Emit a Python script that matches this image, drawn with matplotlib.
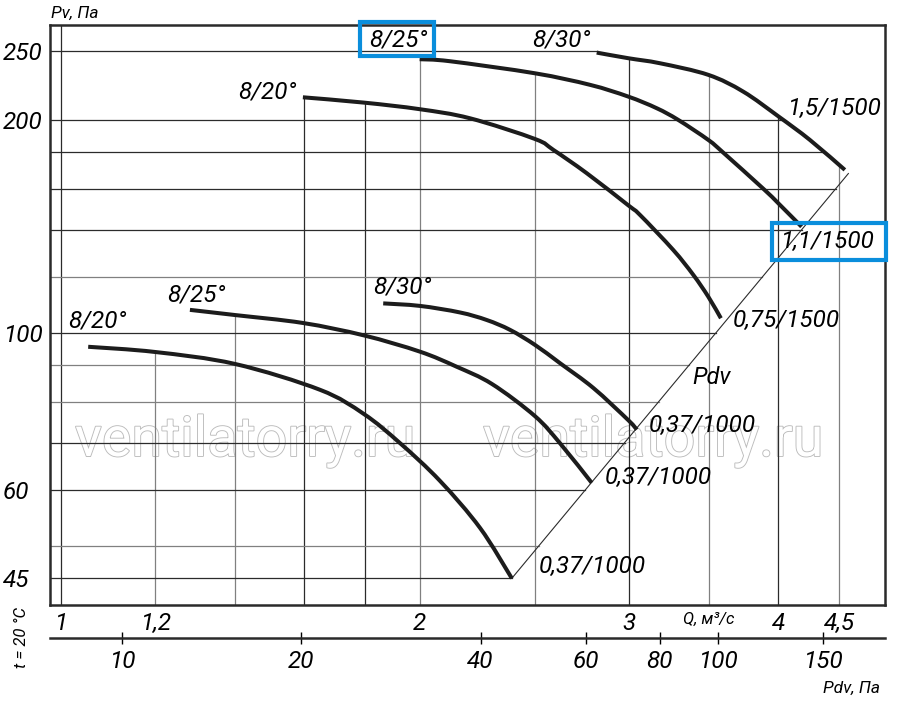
import numpy as np
import matplotlib
matplotlib.use("Agg")
import matplotlib.pyplot as plt
from matplotlib.patches import Rectangle, PathPatch
from matplotlib.path import Path
from matplotlib import patheffects
from matplotlib.ticker import NullLocator

plt.rcParams['font.family'] = ['Roboto', 'DejaVu Sans']
plt.rcParams['font.style'] = 'italic'

# fan curves: Q, m3/s  ->  Pv, Pa
# 1500 rpm
q_20_1500 = [1.596, 1.796, 2.001, 2.204, 2.499, 2.590, 2.762, 2.993, 3.062, 3.265, 3.394, 3.494, 3.58]
p_20_1500 = [215.3, 211.6, 207.1, 201.1, 188.0, 181.4, 168.2, 151.5, 146.8, 131.0, 120.8, 112.5, 104.9]
q_25_1500 = [2.0, 2.121, 2.499, 2.780, 2.993, 3.162, 3.297, 3.494, 3.594, 3.884, 4.0, 4.184]
p_25_1500 = [243.7, 242.1, 232.8, 224.2, 215.8, 207.8, 200.0, 187.4, 180.0, 160.0, 152.5, 141.3]
q_30_1500 = [2.816, 2.993, 3.183, 3.494, 3.738, 4.003, 4.252, 4.549]
p_30_1500 = [249.0, 244.5, 240.5, 231.6, 219.3, 202.2, 187.4, 170.0]
# 1000 rpm
q_20_1000 = [1.054, 1.199, 1.400, 1.650, 1.796, 1.925, 2.080, 2.248, 2.39]
p_20_1000 = [95.6, 94.0, 90.4, 83.1, 76.8, 69.9, 61.8, 53.0, 45.0]
q_25_1000 = [1.283, 1.400, 1.596, 1.796, 2.001, 2.148, 2.300, 2.499, 2.624, 2.789]
p_25_1000 = [107.8, 106.0, 103.3, 99.2, 94.1, 89.6, 84.7, 76.3, 69.8, 61.4]
q_30_1000 = [1.864, 2.001, 2.162, 2.277, 2.382, 2.499, 2.624, 2.798, 2.993, 3.043]
p_30_1000 = [110.1, 109.2, 106.9, 104.3, 101.0, 96.2, 90.6, 83.6, 75.3, 73.0]

# dynamic pressure line
pdv_line_q = [2.39, 4.58]
pdv_line_p = [45.0, 168.0]
PDV_COEF = 7.9  # Pdv = k * Q^2

q_grid = [1, 1.2, 1.4, 1.6, 1.8, 2, 2.5, 3, 3.5, 4, 4.5]
p_grid = [45, 50, 60, 70, 80, 90, 100, 120, 140, 160, 180, 200, 250]
q_ticks = [1, 1.2, 2, 3, 3.5, 4, 4.5]
q_tick_labels = ['1', '1,2', '2', '3', 'Q, м³/с', '4', '4,5']
p_ticks = [45, 60, 100, 200, 250]
p_tick_labels = ['45', '60', '100', '200', '250']
pdv_ticks = [10, 20, 40, 60, 80, 100, 150]
pdv_tick_labels = ['10', '20', '40', '60', '80', '100', '150']

curves = [
    (q_20_1500, p_20_1500, '8/20°', (1.489, 219.1), '0,75/1500', (4.061, 104.3)),
    (q_25_1500, p_25_1500, '8/25°', (1.918, 259.5), '1,1/1500', (4.395, 134.5)),
    (q_30_1500, p_30_1500, '8/30°', (2.628, 259.5), '1,5/1500', (4.455, 207.3)),
    (q_20_1000, p_20_1000, '8/20°', (1.072, 104.0), '0,37/1000', (2.791, 46.7)),
    (q_25_1000, p_25_1000, '8/25°', (1.300, 113.2), '0,37/1000', (3.170, 62.4)),
    (q_30_1000, p_30_1000, '8/30°', (1.933, 116.2), '0,37/1000', (3.451, 74.1)),
]

XLIM = (0.979, 4.916)
YLIM = (41.26, 272.4)
W, H = 900, 717
KX = 835 / np.log10(XLIM[1] / XLIM[0])
KY = 580 / np.log10(YLIM[1] / YLIM[0])

fig = plt.figure(figsize=(W / 100, H / 100), dpi=100)
ax = fig.add_axes([50 / W, 112 / H, 835 / W, 580 / H])
ax.set_xscale('log')
ax.set_yscale('log')
ax.set_xlim(*XLIM)
ax.set_ylim(*YLIM)


def smooth_path(q, p):
    # Catmull-Rom through the points, as cubic Bezier segments (log space)
    pts = np.column_stack([np.log10(q) * KX, np.log10(p) * KY])
    ext = np.vstack([pts[0], pts, pts[-1]])
    verts = [pts[0]]
    codes = [Path.MOVETO]
    for i in range(len(pts) - 1):
        p0, p1, p2, p3 = ext[i], ext[i + 1], ext[i + 2], ext[i + 3]
        verts += [p1 + (p2 - p0) / 6, p2 - (p3 - p1) / 6, p2]
        codes += [Path.CURVE4] * 3
    verts = np.array(verts)
    verts = np.column_stack([10 ** (verts[:, 0] / KX), 10 ** (verts[:, 1] / KY)])
    return Path(verts, codes)


def top_at(qv):
    vals = [np.interp(np.log(qv), np.log(q), np.log(p))
            for q, p, *_ in curves if q[0] <= qv <= q[-1]]
    return float(np.exp(max(vals))) if vals else YLIM[1]


def right_at(pv):
    cands = []
    for q, p in [(c[0], c[1]) for c in curves] + [(pdv_line_q, pdv_line_p)]:
        lq, lp = np.log(q), np.log(p)
        if min(p) <= pv <= max(p):
            o = np.argsort(lp)
            cands.append(np.exp(np.interp(np.log(pv), lp[o], lq[o])))
    if not cands:
        top = max(curves, key=lambda c: c[1][0])
        cands.append(top[0][0])
    return float(max(cands))


dark_q = {1, 1.6, 1.8, 3, 4}
dark_p = {45, 60, 70, 100, 140, 160, 180, 200, 250}
for qv in q_grid:
    col = '#2b2b2b' if qv in dark_q else '#808080'
    ax.plot([qv, qv], [YLIM[0], top_at(qv)], color=col, lw=0.9, zorder=2)
for pv in p_grid:
    col = '#2b2b2b' if pv in dark_p else '#808080'
    ax.plot([XLIM[0], right_at(pv)], [pv, pv], color=col, lw=0.9, zorder=2)

ax.plot(pdv_line_q, pdv_line_p, color='#2b2b2b', lw=0.8, zorder=3)
ax.text(3.518, 86.4, 'Pdv', fontsize=17, ha='center', va='center')

for q, p, name, name_pos, motor, motor_pos in curves:
    ax.add_patch(PathPatch(smooth_path(q, p), fill=False, ec='#1c1c1c', lw=2.9,
                           capstyle='butt', joinstyle='round', zorder=4))
    ax.text(*name_pos, name, fontsize=17.5, ha='center', va='center')
    ax.text(*motor_pos, motor, fontsize=17.5, ha='center', va='center')

# watermark
for xc in (245, 653):
    ax.text(xc / W, 1 - 456 / H, 'ventilatorry.ru', transform=fig.transFigure,
            fontsize=40, style='normal', fontweight='normal', color='white',
            ha='center', va='baseline', zorder=0.5,
            path_effects=[patheffects.withStroke(linewidth=1.3, foreground='#bcbcbc')])

ax.set_xticks(q_ticks, labels=q_tick_labels)
ax.set_yticks(p_ticks, labels=p_tick_labels)
ax.xaxis.set_minor_locator(NullLocator())
ax.yaxis.set_minor_locator(NullLocator())
ax.tick_params(length=0)
ax.tick_params(axis='x', pad=5, labelsize=17.5)
ax.tick_params(axis='y', pad=34, labelsize=17.5)
for lab in ax.get_yticklabels():
    lab.set_horizontalalignment('left')
ax.get_xticklabels()[q_ticks.index(3.5)].set_fontsize(12)

for s in ax.spines.values():
    s.set_linewidth(1.8)
    s.set_color('#2a2a2a')

sec = ax.secondary_xaxis(-33 / 580, functions=(lambda q: PDV_COEF * q ** 2,
                                                 lambda p: np.sqrt(np.maximum(p, 1e-9) / PDV_COEF)))
sec.set_xticks(pdv_ticks, labels=pdv_tick_labels)
sec.xaxis.set_minor_locator(NullLocator())
sec.tick_params(direction='inout', length=9, width=1, pad=4, labelsize=17.5)
sec.spines['bottom'].set_linewidth(1.8)
sec.spines['bottom'].set_color('#2a2a2a')

fig.text(51 / W, 1 - 13 / H, 'Pv, Па', fontsize=12.5, ha='left', va='center')
fig.text(880 / W, 1 - 688 / H, 'Pdv, Па', fontsize=12.5, ha='right', va='center')
fig.text(22 / W, 1 - 638 / H, 't = 20 °C', fontsize=12, rotation=90, ha='center', va='center')

# highlight boxes
for x0, y0, x1, y1 in [(360, 22, 434, 56), (772, 223, 886, 260)]:
    fig.add_artist(Rectangle((x0 / W, 1 - y1 / H), (x1 - x0) / W, (y1 - y0) / H,
                             transform=fig.transFigure, fill=False,
                             ec='#0a8edc', lw=3, zorder=10))

fig.savefig('out.png', dpi=100)
